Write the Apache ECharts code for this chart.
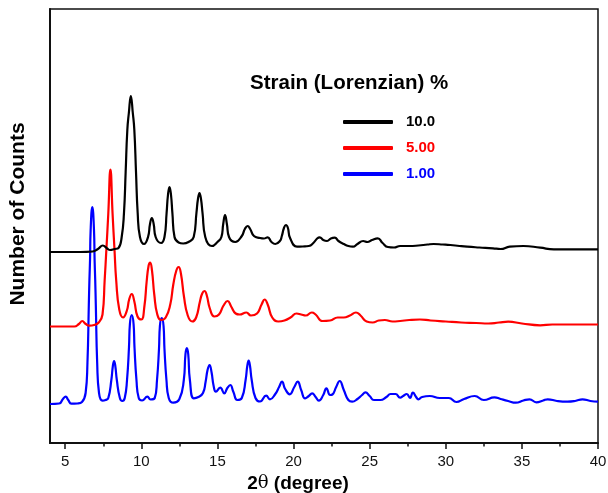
<!DOCTYPE html>
<html>
<head>
<meta charset="utf-8">
<script src="https://cdn.jsdelivr.net/npm/echarts@6/dist/echarts.min.js"></script>
<style>
  html, body { margin: 0; padding: 0; background: #fff; }
  #chart { width: 608px; height: 493px; }
</style>
</head>
<body>
<div id="chart"></div>
<script>
// Simulated powder patterns: [2θ, counts above each pattern's own baseline]
const strain10 = [
  [4.0,0],[5.0,0],[6.0,0],[6.8,0.5],[7.15,3],[7.47,6.5],[7.75,3.5],[7.95,2],[8.25,3],[8.5,4],
  [8.71,15],[8.86,39],[8.97,80],[9.08,122],[9.18,139],[9.31,156],[9.44,139],[9.54,122],[9.65,80],
  [9.76,39],[9.91,15],[10.18,8],[10.44,15],[10.57,28],[10.69,34],[10.81,28],[10.94,15],[11.3,9],
  [11.52,15],[11.66,39],[11.75,57],[11.85,65],[11.95,57],[12.04,39],[12.18,15],[12.45,9.5],[12.75,8.5],
  [13.1,10],[13.44,15],[13.62,39],[13.72,53],[13.82,59],[13.92,53],[14.02,39],[14.2,15],[14.64,6],
  [15.0,10],[15.26,15],[15.38,28],[15.5,37],[15.62,28],[15.76,15],[16.17,10],[16.6,16],[16.8,23],
  [16.98,26],[17.15,23],[17.4,16],[17.8,14],[18.05,13.5],[18.3,14.7],[18.55,10],[18.8,8],[19.1,11],
  [19.23,16],[19.37,24],[19.5,27],[19.63,24],[19.77,14],[20.23,5.3],[20.6,5.5],[21.0,6],[21.3,9],
  [21.55,13.5],[21.72,14.7],[21.95,12],[22.2,11],[22.45,13.5],[22.71,14.3],[22.95,11],[23.3,8],
  [23.6,6],[23.9,5.3],[24.2,8],[24.57,11],[24.85,10],[25.15,12],[25.53,13.7],[25.85,9],[26.2,5],
  [26.6,4.5],[27.0,6],[27.6,6],[28.2,6.5],[28.8,7.5],[29.2,8],[29.8,7.5],[30.3,7],[30.9,6],[31.4,5.3],
  [32.2,4.5],[33.1,3.7],[33.6,3],[34.2,5.3],[35.1,6],[36.2,4.3],[37.1,2.7],[38.0,2.7],[39.0,2.7],[40.0,2.7]
];

const strain5 = [
  [4.0,0],[5.0,0],[5.6,0],[5.9,2.5],[6.12,5.5],[6.35,2.5],[6.6,0.8],[6.9,1.5],[7.2,4],[7.45,12],
  [7.59,46],[7.7,76],[7.83,113],[7.97,157],[8.11,113],[8.24,76],[8.35,46],[8.55,17],[8.8,9],[9.05,16],
  [9.2,27],[9.37,32.5],[9.54,25],[9.75,10],[10.0,7],[10.2,20],[10.35,45],[10.48,61],[10.58,64],[10.7,56],
  [10.85,32],[11.05,12],[11.3,6.5],[11.6,9],[11.9,22],[12.1,42],[12.3,56],[12.45,59.5],[12.6,53],
  [12.8,30],[13.05,11],[13.35,5],[13.6,9],[13.85,25],[14.0,33],[14.15,35.5],[14.3,31],[14.5,18],
  [14.8,10],[15.1,12],[15.4,21],[15.67,25.5],[15.9,20],[16.2,13],[16.45,12],[16.9,14],[17.2,11],
  [17.6,13],[17.9,22],[18.1,27],[18.3,22],[18.6,9],[19.0,5],[19.4,6],[19.8,9],[20.2,13],[20.5,12],
  [20.8,11],[21.2,14],[21.45,12],[21.9,5.5],[22.4,6],[22.9,9],[23.3,9],[23.7,11],[24.1,14],[24.4,11],
  [24.8,5],[25.2,4],[25.6,6],[26.0,6.5],[26.5,5],[27.0,5.5],[27.6,6.5],[28.3,7],[29.0,6],[30.0,5],
  [31.0,4],[32.0,3.5],[32.8,3],[33.5,4],[34.1,4.8],[35.0,3],[36.2,1.2],[37.0,2],[38.0,2],[39.0,2],[40.0,2]
];

const strain1 = [
  [4.0,0],[4.6,0.5],[4.85,5],[5.03,7.3],[5.2,4],[5.4,0.3],[5.8,0.5],[6.1,2],[6.34,11],[6.46,41],
  [6.55,99],[6.59,124],[6.63,144],[6.67,174],[6.78,197],[6.89,174],[6.93,144],[6.97,124],[7.01,99],
  [7.1,41],[7.22,11],[7.45,3.3],[7.65,4],[7.83,6],[8.03,24],[8.13,38],[8.21,43],[8.29,38],[8.39,24],
  [8.59,6],[8.75,3],[8.91,6],[9.06,24],[9.19,57],[9.25,80],[9.37,89],[9.49,80],[9.55,57],[9.68,24],
  [9.83,6],[10.05,3.5],[10.4,7.3],[10.6,4.5],[10.88,6],[11.03,24],[11.16,55],[11.22,78],[11.34,86],
  [11.46,78],[11.52,55],[11.65,24],[11.8,6],[12.1,1.3],[12.5,5],[12.79,24],[12.9,50],[12.99,56],
  [13.08,50],[13.19,24],[13.45,5.7],[13.75,7],[14.05,11],[14.22,22],[14.35,34],[14.48,39],
  [14.61,32],[14.75,18],[14.9,12.3],[15.18,16.3],[15.45,10.7],[15.65,16],[15.84,19],[16.05,12],[16.3,4],
  [16.6,6],[16.85,24],[16.96,38],[17.05,43.5],[17.14,38],[17.25,24],[17.5,6],[17.8,2.5],[18.2,8.3],
  [18.45,4.7],[18.8,10],[19.05,17],[19.24,22.3],[19.45,15],[19.75,9.7],[20.05,17],[20.27,22.3],[20.5,14],
  [20.76,5.7],[21.0,8],[21.22,10.7],[21.45,7],[21.66,3.3],[21.95,9],[22.16,15.7],[22.4,9],[22.55,9.5],
  [22.8,17],[23.03,23],[23.3,14],[23.6,4],[23.85,2.3],[24.2,5],[24.5,9],[24.72,11.7],[25.0,8],[25.28,4],
  [25.7,4],[26.1,7],[26.37,10],[26.7,10],[27.0,6.3],[27.2,8],[27.44,10],[27.65,6],[27.84,11.3],[28.05,7],
  [28.2,4.7],[28.45,7],[28.95,8],[29.6,6],[30.2,6],[30.7,2],[31.2,5],[31.9,8],[32.5,4],[33.2,6.7],
  [33.6,5],[34.1,3],[34.6,1.3],[35.1,3.5],[35.5,4.7],[35.95,1.7],[36.4,3.5],[36.7,4.7],[37.3,3],
  [38.0,2.3],[38.5,3],[38.98,4.7],[39.5,3],[40.0,2.3]
];

// Legend labels and vertical stacking offsets (counts)
const strainLabels = ['10.0', '5.00', '1.00'];
const stackOffsets = [191, 116.5, 39];
const patterns = [strain10, strain5, strain1];

// Axis ticks
const majorTicks = [5, 10, 15, 20, 25, 30, 35, 40];
const minorTicks = [7.5, 12.5, 17.5, 22.5, 27.5, 32.5, 37.5];

const lineColors = ['#000000', '#ff0000', '#0000ff'];

const chart = echarts.init(document.getElementById('chart'), null, { renderer: 'canvas' });

const series = patterns.map((pts, i) => ({
  name: strainLabels[i],
  type: 'line',
  xAxisIndex: 0,
  data: pts.map(p => [p[0], p[1] + stackOffsets[i]]),
  showSymbol: false,
  smooth: 0.5,
  lineStyle: { color: lineColors[i], width: 2.2 },
  itemStyle: { color: lineColors[i] },
  z: 3 - i
}));

const FONT = 'Arial, "Liberation Sans", sans-serif';

chart.setOption({
  animation: false,
  backgroundColor: '#ffffff',
  title: {
    text: 'Strain (Lorenzian) %',
    left: 250,
    top: 73,
    padding: 0,
    textStyle: { fontFamily: FONT, fontSize: 20.5, fontWeight: 'bold', color: '#000' }
  },
  legend: {
    orient: 'vertical',
    left: 343,
    top: 114,
    padding: 0,
    itemWidth: 50,
    itemHeight: 4,
    itemGap: 10,
    icon: 'roundRect',
    data: strainLabels.map((n, i) => ({
      name: n,
      textStyle: { color: lineColors[i] }
    })),
    textStyle: {
      fontFamily: FONT, fontSize: 15, fontWeight: 'bold', lineHeight: 16,
      padding: [0, 0, 0, 8]
    }
  },
  grid: {
    left: 50, right: 10, top: 9, bottom: 50,
    outerBoundsMode: 'none',
    containLabel: false,
    show: true, borderColor: '#111', borderWidth: 1.5
  },
  xAxis: [{
    type: 'value',
    min: 4, max: 40,
    position: 'bottom',
    name: '{a|2}{t|θ}{a| (degree)}',
    nameLocation: 'middle',
    nameGap: 31,
    nameTextStyle: {
      padding: [0, 52, 0, 0],
      rich: {
        a: { fontFamily: FONT, fontSize: 19, fontWeight: 'bold', color: '#000' },
        t: { fontFamily: '"DejaVu Serif", serif', fontSize: 18, color: '#000' }
      }
    },
    axisLine: { show: true, lineStyle: { color: '#111', width: 2 } },
    axisTick: { show: true, customValues: majorTicks, length: 6, lineStyle: { color: '#111', width: 1.5 } },
    axisLabel: { show: true, customValues: majorTicks, fontFamily: FONT, fontSize: 15, color: '#111', margin: 11 },
    splitLine: { show: false }
  }, {
    type: 'value',
    min: 4, max: 40,
    position: 'bottom',
    axisLine: { show: false },
    axisTick: { show: true, customValues: minorTicks, length: 3.5, lineStyle: { color: '#111', width: 1.5 } },
    axisLabel: { show: false },
    splitLine: { show: false }
  }],
  yAxis: {
    type: 'value',
    min: 0, max: 434,
    name: 'Number of Counts',
    nameLocation: 'middle',
    nameGap: 21,
    nameTextStyle: { fontFamily: FONT, fontSize: 21, fontWeight: 'bold', color: '#000', padding: [0, 0, 0, 24] },
    axisLine: { show: true, lineStyle: { color: '#111', width: 2 } },
    axisTick: { show: false },
    axisLabel: { show: false },
    splitLine: { show: false }
  },
  series: series
});
</script>
</body>
</html>
